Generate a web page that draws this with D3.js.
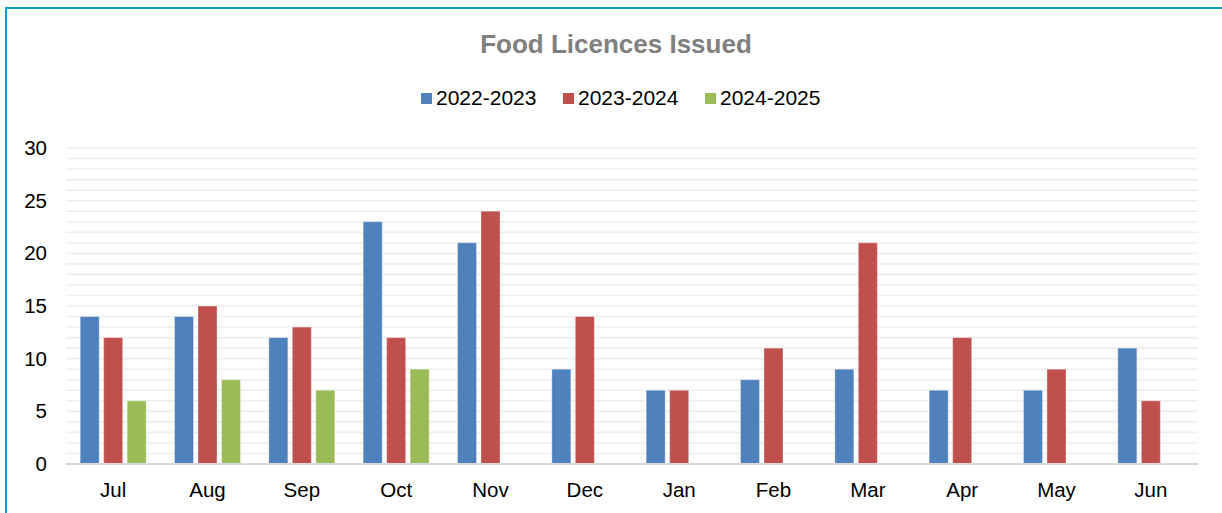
<!DOCTYPE html>
<html>
<head>
<meta charset="utf-8">
<script src="https://cdn.jsdelivr.net/npm/d3@7"></script>
<style>
  body { margin: 0; background: #fff; }
  svg { display: block; font-family: "Liberation Sans", Arial, sans-serif; }
</style>
</head>
<body>
<script>
const months = ['Jul', 'Aug', 'Sep', 'Oct', 'Nov', 'Dec', 'Jan', 'Feb', 'Mar', 'Apr', 'May', 'Jun']
const seriesNames = ['2022-2023', '2023-2024', '2024-2025']
const fy2223 = [14, 14, 12, 23, 21, 9, 7, 8, 9, 7, 7, 11]
const fy2324 = [12, 15, 13, 12, 24, 14, 7, 11, 21, 12, 9, 6]
const fy2425 = [6, 8, 7, 9, null, null, null, null, null, null, null, null]
const colors = ['#4f81bd', '#c0504d', '#9bbb59']
const yTicks = [0, 5, 10, 15, 20, 25, 30]

const w = 1222
const h = 513
const plotLeft = 66, plotRight = 1198, plotTop = 148, plotBottom = 464

const svg = d3.select('body')
     .append('svg')
     .attr('width', w)
     .attr('height', h)

// chart border (cropped on right/bottom)
svg.append('path')
     .attr('d', `M6,${h} L6,8 L${w},8`)
     .attr('fill', 'none')
     .attr('stroke', '#0f9bd7')
     .attr('stroke-width', 2)

svg.append('text')
     .attr('x', 616)
     .attr('y', 53)
     .attr('text-anchor', 'middle')
     .attr('font-size', 26)
     .attr('font-weight', 'bold')
     .attr('fill', '#808080')
     .text('Food Licences Issued')

// legend
const legendX = [421, 563, 705]
const legend = svg.append('g')
seriesNames.forEach((name, i) => {
     legend.append('rect')
          .attr('x', legendX[i])
          .attr('y', 93)
          .attr('width', 11)
          .attr('height', 11)
          .attr('fill', colors[i])
     legend.append('text')
          .attr('x', legendX[i] + 15)
          .attr('y', 105)
          .attr('font-size', 21)
          .attr('fill', '#000')
          .text(name)
})

const xScale = d3.scaleBand()
     .domain(months)
     .range([plotLeft, plotRight])
const bw = xScale.bandwidth()
const xInner = d3.scaleBand()
     .domain(seriesNames)
     .range([bw / 2 - 33, bw / 2 + 33])
     .paddingInner(0.19)
const yScale = d3.scaleLinear()
     .domain([0, 30])
     .range([plotBottom, plotTop])

// gridlines at every unit
svg.append('g')
     .selectAll('line')
     .data(d3.range(1, 31))
     .enter()
     .append('line')
     .attr('x1', plotLeft)
     .attr('x2', plotRight)
     .attr('y1', d => yScale(d))
     .attr('y2', d => yScale(d))
     .attr('stroke', '#eeeeee')
     .attr('stroke-width', 1.6)

const data = [fy2223, fy2324, fy2425]
data.forEach((vals, si) => {
     svg.append('g')
          .selectAll('rect')
          .data(vals.map((v, i) => ({ m: months[i], v })).filter(d => d.v != null))
          .enter()
          .append('rect')
          .attr('x', d => xScale(d.m) + xInner(seriesNames[si]))
          .attr('width', xInner.bandwidth())
          .attr('y', d => yScale(d.v))
          .attr('height', d => plotBottom - yScale(d.v))
          .attr('fill', colors[si])
          .attr('stroke', 'rgba(255,255,255,0.35)')
          .attr('stroke-width', 1)
})

// baseline
svg.append('line')
     .attr('x1', plotLeft)
     .attr('x2', plotRight)
     .attr('y1', plotBottom)
     .attr('y2', plotBottom)
     .attr('stroke', '#d9d9d9')
     .attr('stroke-width', 2)

const yAxis = d3.axisLeft(yScale).tickValues(yTicks).tickSize(0).tickPadding(0)
svg.append('g')
     .attr('transform', 'translate(47,0)')
     .call(yAxis)
     .call(g => g.select('.domain').remove())
     .call(g => g.selectAll('text')
          .attr('font-size', 20.5)
          .attr('font-family', '"Liberation Sans", Arial, sans-serif')
          .attr('fill', '#000'))

const xAxis = d3.axisBottom(xScale).tickSize(0).tickPadding(0)
svg.append('g')
     .attr('transform', `translate(0,${plotBottom + 18})`)
     .call(xAxis)
     .call(g => g.select('.domain').remove())
     .call(g => g.selectAll('text')
          .attr('font-size', 20.5)
          .attr('font-family', '"Liberation Sans", Arial, sans-serif')
          .attr('fill', '#000'))
</script>
</body>
</html>
